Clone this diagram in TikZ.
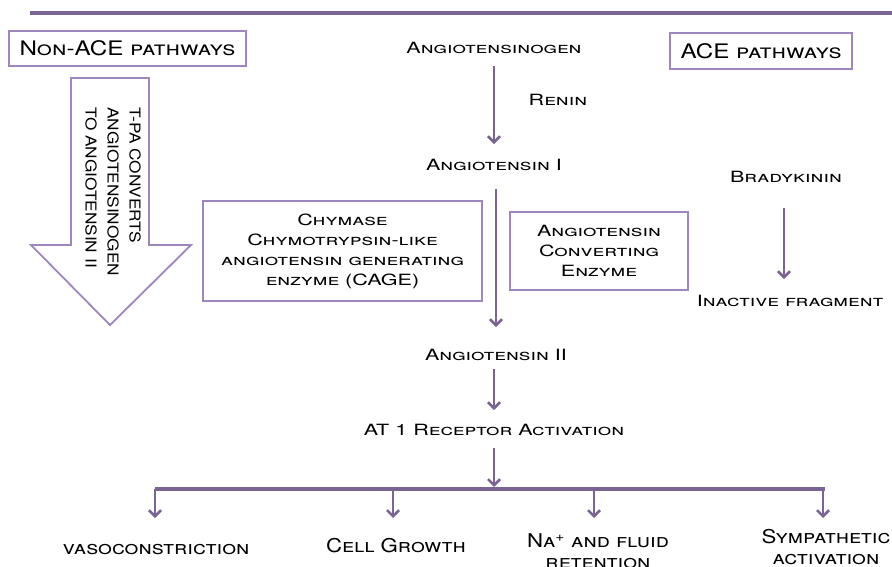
\documentclass[tikz,border=0pt]{standalone}
\usepackage{fontspec}
\setmainfont{TeX Gyre Heros}
\newfontfamily\wideface{TeX Gyre Heros}[FakeStretch=1.39]
\newfontfamily\headface{TeX Gyre Heros}[FakeStretch=1.21]
\newfontfamily\effectface{TeX Gyre Heros}[FakeStretch=1.17]
\newfontfamily\arrowface{TeX Gyre Heros}[FakeStretch=1.15]
\usepackage{tikz}
\usetikzlibrary{arrows.meta, positioning}
\definecolor{LineColor}{RGB}{122, 100, 148}
\definecolor{BoxColor}{RGB}{158, 134, 190}

\begin{document}
\begin{tikzpicture}[x=1pt, y=-1pt,
    flow/.style={draw=LineColor, line width=2.6pt, -{Straight Barb[length=6pt, width=12pt]}},
    lbl/.style={font=\wideface\scshape\fontsize{15.5}{20}\selectfont, inner sep=0pt, align=center},
    framed/.style={lbl, draw=BoxColor, line width=1.8pt},
    heading/.style={framed, font=\headface\scshape\fontsize{20}{22}\selectfont},
    effect/.style={lbl, font=\effectface\scshape\fontsize{19}{21}\selectfont}]
    \useasboundingbox (0,0) rectangle (892,567);
    \draw[LineColor, line width=3.5pt] (30,13) -- (892,13); % top rule

    % headings
    \node[heading, minimum width=237pt, minimum height=35pt] (nonace) at (127.5,48.5) {Non-ACE pathways};
    \node[heading, minimum width=182pt, minimum height=36pt] (ace) at (761,51) {ACE pathways};

    % main cascade
    \node[lbl] (agen) at (494,48) {Angiotensinogen};
    \node[lbl] (renin) at (558,100) {Renin};
    \node[lbl] (ang1) at (494,165) {Angiotensin I};
    \node[framed, minimum width=279pt, minimum height=100pt] (chymase) at (342.5,251) {Chymase\\Chymotrypsin-like\\angiotensin generating\\enzyme (CAGE)};
    \node[framed, minimum width=178pt, minimum height=78pt] (acebox) at (599,251) {Angiotensin\\Converting\\Enzyme};
    \node[lbl] (ang2) at (496,355) {Angiotensin II};
    \node[lbl] (at1) at (494,430) {AT 1 Receptor Activation};

    \draw[flow, shorten <=12pt, shorten >=15pt] (agen) -- (ang1);
    \draw[flow, shorten <=18pt, shorten >=22pt] (ang1.south -| 496,0) -- (ang2.north -| 496,0);
    \draw[flow, shorten <=8pt, shorten >=14pt] (ang2.south -| 494,0) -- (at1.north -| 494,0);

    % bradykinin branch
    \node[lbl] (brady) at (786,177) {Bradykinin};
    \node[lbl] (frag) at (790,301) {Inactive fragment};
    \draw[flow, shorten <=25pt, shorten >=16pt] (brady.south -| 784,0) -- (frag.north -| 784,0);

    % non-ACE block arrow
    \draw[BoxColor, line width=1.8pt, fill=white] (71,78) -- (149,78) -- (149,245) -- (191,245)
        -- (110,325) -- (31,245) -- (71,245) -- cycle;
    \node[lbl, rotate=-90, anchor=north west, align=left, font=\arrowface\fontsize{15}{22}\selectfont] (tpa) at (141,107) {T-PA CONVERTS\\ANGIOTENSINOGEN\\TO ANGIOTENSIN II};

    % effects
    \coordinate (split) at (494,487);
    \draw[flow, shorten <=12pt] (at1) -- (split);
    \draw[LineColor, line width=3.5pt] (155,489) -- (825,489);
    \foreach \name/\x in {vaso/155, growth/393, sodium/594, symp/823} {
        \coordinate (\name top) at (\x,489);
        \coordinate (\name tip) at (\x,518);
        \draw[flow] (\name top) -- (\name tip);
    }
    \node[effect] (vaso) at (156,550) {vasoconstriction};
    \node[effect] (growth) at (396,546) {Cell Growth};
    \node[effect] (sodium) at (598,551) {Na\textsuperscript{+} and fluid\\retention};
    \node[effect] (symp) at (826,547) {Sympathetic\\activation};
\end{tikzpicture}
\end{document}
